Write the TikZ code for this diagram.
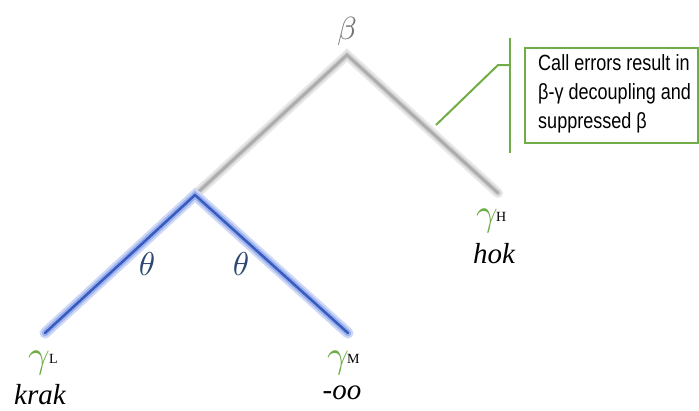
\documentclass[tikz,border=0pt]{standalone}
\usepackage{fontspec}
\setmainfont{Liberation Serif}
\newfontfamily\narrowsans[FakeStretch=0.82]{Liberation Sans}
\DeclareFontShape{OML}{cmm}{m}{it}{<-> cmmi10}{}
\usetikzlibrary{positioning, fit}
\definecolor{callgreen}{RGB}{112,173,71}
\definecolor{gamgreen}{RGB}{112,172,70}
\definecolor{thetablue}{RGB}{47,72,115}
\definecolor{glowblue}{RGB}{90,125,225}
\definecolor{coreblue}{RGB}{55,92,190}

\begin{document}
\begin{tikzpicture}[
  x=1pt, y=-1pt,
  grayglow/.style={line width=10pt, black!9, line cap=round},
  graymid/.style={line width=6pt, black!17, line cap=round},
  grayline/.style={line width=3pt, black!32, line cap=round},
  blueglow/.style={line width=11pt, glowblue!30, line cap=round},
  bluemid/.style={line width=6.5pt, glowblue!60, line cap=round},
  blueline/.style={line width=2.5pt, coreblue, line cap=round},
  gam/.style={inner sep=0pt, font=\fontsize{38}{40}\selectfont, text=gamgreen},
  sup/.style={inner sep=0pt, font=\fontsize{14}{15}\selectfont},
  word/.style={inner sep=0pt, font=\fontsize{29}{32}\selectfont\itshape},
  theta/.style={inner sep=0pt, font=\fontsize{33}{36}\selectfont, text=thetablue},
  callbox/.style={draw=callgreen, line width=2pt, inner sep=0pt},
  calltext/.style={inner sep=0pt, align=left, font=\narrowsans\fontsize{22}{29}\selectfont},
  lead/.style={draw=callgreen, line width=2pt}
]
\useasboundingbox (0,0) rectangle (699,410);
% ----- tree points -----
\coordinate (top) at (347,55);
\coordinate (mid) at (195,195);
\coordinate (hend) at (498,193);
\coordinate (lend) at (45,333);
\coordinate (mend) at (348,333);
% ----- gray upper branches -----
\draw[grayglow] (mid) -- (top) -- (hend);
\draw[graymid] (mid) -- (top) -- (hend);
\draw[grayline] (mid) -- (top) -- (hend);
% ----- blue lower branches -----
\draw[blueglow] (lend) -- (mid) -- (mend);
\draw[bluemid] (lend) -- (mid) -- (mend);
\draw[blueline] (lend) -- (mid) -- (mend);
% ----- labels -----
\node[inner sep=0pt, text=black!55, font=\fontsize{32}{34}\selectfont] (beta) at (347,31) {$\beta$};
\node[theta] (thL) at (147,264) {$\theta$};
\node[theta] (thR) at (241,264) {$\theta$};
\node[gam] (gL) at (39,363) {$\gamma$};
\node[sup, anchor=north west] (supL) at (49,354) {L};
\node[word] (krak) at (40,395) {krak};
\node[gam] (gM) at (338,363) {$\gamma$};
\node[sup, anchor=north west] (supM) at (347,354) {M};
\node[word] (oo) at (342,393) {-oo};
\node[gam] (gH) at (487,221) {$\gamma$};
\node[sup, anchor=north west] (supH) at (496,212) {H};
\node[word] (hok) at (494,254) {hok};
% ----- callout -----
\coordinate (boxNW) at (525,48);
\coordinate (boxSE) at (698,143);
\node[callbox, fit=(boxNW) (boxSE)] (note) {};
\node[calltext, anchor=north west] (noteText) at (538,54) {Call errors result in\\β-γ decoupling and\\suppressed β};
\coordinate (barT) at (510,38);
\coordinate (barB) at (510,153);
\coordinate (elbow) at (498,65);
\coordinate (tip) at (436,125);
\draw[lead] (barT) -- (barB);
\draw[lead] (tip) -- (elbow) -- (elbow -| barT);
\end{tikzpicture}
\end{document}
